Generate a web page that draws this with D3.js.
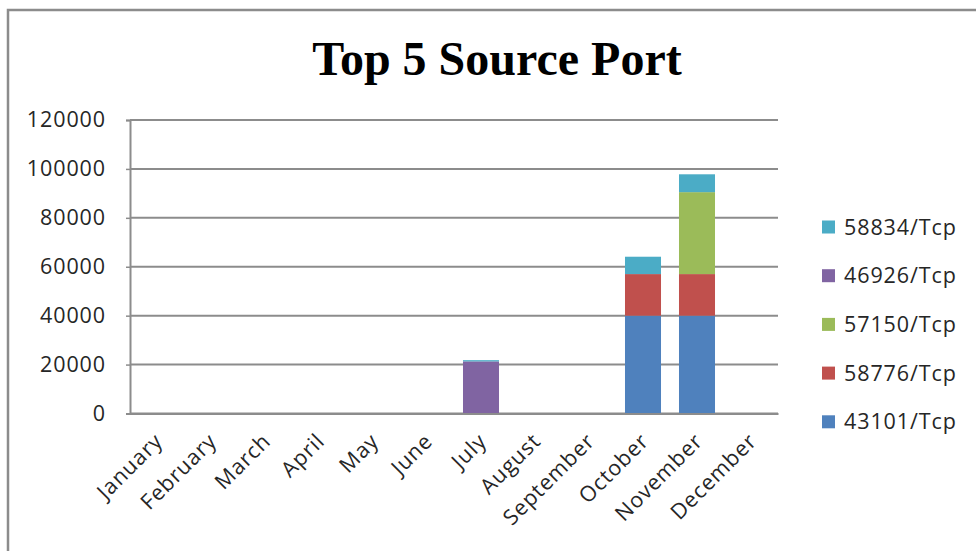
<!DOCTYPE html>
<html><head><meta charset="utf-8">
<script src="https://cdn.jsdelivr.net/npm/d3@7"></script>
<style>html,body{margin:0;padding:0;background:#fff;}svg{display:block;}</style>
</head><body>
<svg id="chart" width="976" height="551"></svg>
<script>
const months = ["January","February","March","April","May","June","July","August","September","October","November","December"];
const seriesNames = ["43101/Tcp","58776/Tcp","57150/Tcp","46926/Tcp","58834/Tcp"];
const seriesColors = ["#4F81BD","#C0504D","#9BBB59","#8064A2","#4BACC6"];
const s43101 = [0,0,0,0,0,0,0,0,0,40000,40000,0];
const s58776 = [0,0,0,0,0,0,0,0,0,17000,17000,0];
const s57150 = [0,0,0,0,0,0,0,0,0,0,33500,0];
const s46926 = [0,0,0,0,0,0,21300,0,0,0,0,0];
const s58834 = [0,0,0,0,0,0,500,0,0,7100,7300,0];
const yTicks = [0,20000,40000,60000,80000,100000,120000];
const title = "Top 5 Source Port";

const seriesValues = [s43101,s58776,s57150,s46926,s58834];
const rows = months.map((m,i)=>{const r={month:m};seriesNames.forEach((n,k)=>r[n]=seriesValues[k][i]);return r;});
const stacked = d3.stack().keys(seriesNames)(rows);

const svg = d3.select("#chart");
const font = "'Open Sans', Lato, sans-serif";
const fs = 21.5, ls = "0.9px", txtCol = "#262626";

// outer frame
svg.append("rect").attr("x",8).attr("y",10).attr("width",1000).attr("height",600)
  .attr("fill","none").attr("stroke","#8c8c8c").attr("stroke-width",2.5);

svg.append("text").attr("x",497).attr("y",75).attr("text-anchor","middle")
  .attr("font-family","'Liberation Serif','Times New Roman',serif").attr("font-weight","bold")
  .attr("font-size",48).attr("fill","#000").text(title);

const L=130,R=778,T=120,B=413.5;
const x = d3.scaleBand().domain(months).range([L,R]).paddingInner(0.333).paddingOuter(0.1665);
const y = d3.scaleLinear().domain([0,120000]).range([B,T]);

// gridlines
svg.append("g").selectAll("line").data(yTicks).join("line")
  .attr("x1",L).attr("x2",R).attr("y1",d=>y(d)).attr("y2",d=>y(d))
  .attr("stroke","#8c8c8c").attr("stroke-width",2);

// y axis
const yAxis = svg.append("g").attr("transform",`translate(${L},0)`)
  .call(d3.axisLeft(y).tickValues(yTicks).tickFormat(d3.format("d")).tickSize(4).tickPadding(20));
yAxis.select(".domain").attr("stroke","#8c8c8c").attr("stroke-width",2);
yAxis.selectAll(".tick line").attr("stroke","#8c8c8c").attr("stroke-width",1.5);
yAxis.selectAll("text").attr("font-family",font).attr("font-size",fs).attr("letter-spacing",ls).attr("fill",txtCol);

// bars
svg.append("g").selectAll("g").data(stacked).join("g")
  .attr("fill",(d,i)=>seriesColors[i])
  .selectAll("rect").data(d=>d).join("rect")
  .attr("x",d=>x(d.data.month)).attr("width",x.bandwidth())
  .attr("y",d=>y(d[1])).attr("height",d=>Math.max(0,y(d[0])-y(d[1])));

// x axis
const xAxis = svg.append("g").attr("transform",`translate(0,${B})`)
  .call(d3.axisBottom(x).tickSize(0).tickPadding(0));
xAxis.select(".domain").attr("stroke","#8c8c8c").attr("stroke-width",2);
xAxis.selectAll("text").attr("font-family",font).attr("font-size",fs).attr("letter-spacing",ls).attr("fill",txtCol)
  .attr("text-anchor","end").attr("dy",0)
  .attr("transform","translate(7,29) rotate(-45)");

// legend
const legendOrder = [4,3,2,1,0];
const lg = svg.append("g").selectAll("g").data(legendOrder).join("g")
  .attr("transform",(d,i)=>`translate(822,${227+i*48.7})`);
lg.append("rect").attr("x",0).attr("y",-6.5).attr("width",13).attr("height",13).attr("fill",d=>seriesColors[d]);
lg.append("text").attr("x",22).attr("y",0).attr("dy","0.35em")
  .attr("font-family",font).attr("font-size",fs).attr("letter-spacing",ls).attr("fill",txtCol).text(d=>seriesNames[d]);
</script>
</body></html>
